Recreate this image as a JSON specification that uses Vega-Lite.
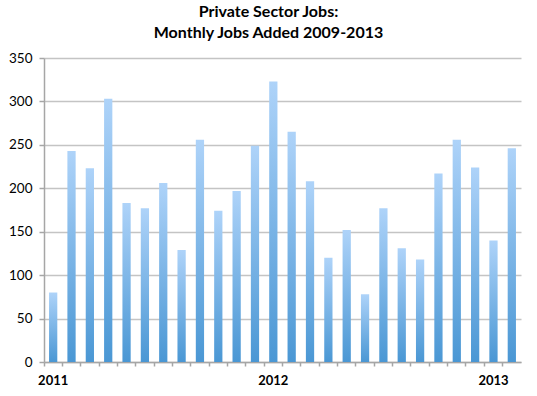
{
  "$schema": "https://vega.github.io/schema/vega-lite/v6.json",
  "autosize": "none",
  "width": 477,
  "height": 304,
  "padding": {"left": 44, "top": 58, "right": 16, "bottom": 34},
  "background": "white",
  "title": {
    "text": ["Private Sector Jobs:", "Monthly Jobs Added 2009-2013"],
    "font": "Lato",
    "fontSize": 16,
    "fontWeight": "bold",
    "color": "black",
    "anchor": "middle",
    "dx": -14,
    "lineHeight": 21,
    "offset": 10
  },
  "data": {
    "values": [
      {"month": "2011-01", "jobs": 80},
      {"month": "2011-02", "jobs": 243},
      {"month": "2011-03", "jobs": 223},
      {"month": "2011-04", "jobs": 303},
      {"month": "2011-05", "jobs": 183},
      {"month": "2011-06", "jobs": 177},
      {"month": "2011-07", "jobs": 206},
      {"month": "2011-08", "jobs": 129},
      {"month": "2011-09", "jobs": 256},
      {"month": "2011-10", "jobs": 174},
      {"month": "2011-11", "jobs": 197},
      {"month": "2011-12", "jobs": 249},
      {"month": "2012-01", "jobs": 323},
      {"month": "2012-02", "jobs": 265},
      {"month": "2012-03", "jobs": 208},
      {"month": "2012-04", "jobs": 120},
      {"month": "2012-05", "jobs": 152},
      {"month": "2012-06", "jobs": 78},
      {"month": "2012-07", "jobs": 177},
      {"month": "2012-08", "jobs": 131},
      {"month": "2012-09", "jobs": 118},
      {"month": "2012-10", "jobs": 217},
      {"month": "2012-11", "jobs": 256},
      {"month": "2012-12", "jobs": 224},
      {"month": "2013-01", "jobs": 140},
      {"month": "2013-02", "jobs": 246}
    ]
  },
  "mark": {
    "type": "bar",
    "fill": {
      "gradient": "linear",
      "x1": 0, "y1": 0, "x2": 0, "y2": 1,
      "stops": [
        {"offset": 0, "color": "#aed3f9"},
        {"offset": 1, "color": "#4a97d4"}
      ]
    }
  },
  "encoding": {
    "x": {
      "field": "month",
      "type": "ordinal",
      "sort": null,
      "scale": {"paddingInner": 0.55, "paddingOuter": 0.275},
      "axis": {
        "title": null,
        "labelAngle": 0,
        "labelExpr": "slice(datum.value, 5) == '01' ? slice(datum.value, 0, 4) : ''",
        "labelFont": "Lato",
        "labelFontSize": 13,
        "labelFontWeight": "bold",
        "labelColor": "black",
        "labelPadding": 8,
        "labelOverlap": false,
        "bandPosition": -0.611,
        "tickSize": 4,
        "tickColor": "#a6a6a6",
        "tickWidth": 1.5,
        "domainColor": "#a6a6a6",
        "domainWidth": 1.5,
        "grid": false
      }
    },
    "y": {
      "field": "jobs",
      "type": "quantitative",
      "scale": {"domain": [0, 350], "nice": false},
      "axis": {
        "title": null,
        "values": [0, 50, 100, 150, 200, 250, 300, 350],
        "labelFont": "Lato",
        "labelFontSize": 13.5,
        "labelColor": "black",
        "labelPadding": 7,
        "tickSize": 5,
        "tickColor": "#a6a6a6",
        "tickWidth": 1.5,
        "domainColor": "#a6a6a6",
        "domainWidth": 1.5,
        "grid": true,
        "gridColor": "#c4c4c4",
        "gridWidth": 1.5
      }
    }
  },
  "config": {"view": {"stroke": null}}
}
